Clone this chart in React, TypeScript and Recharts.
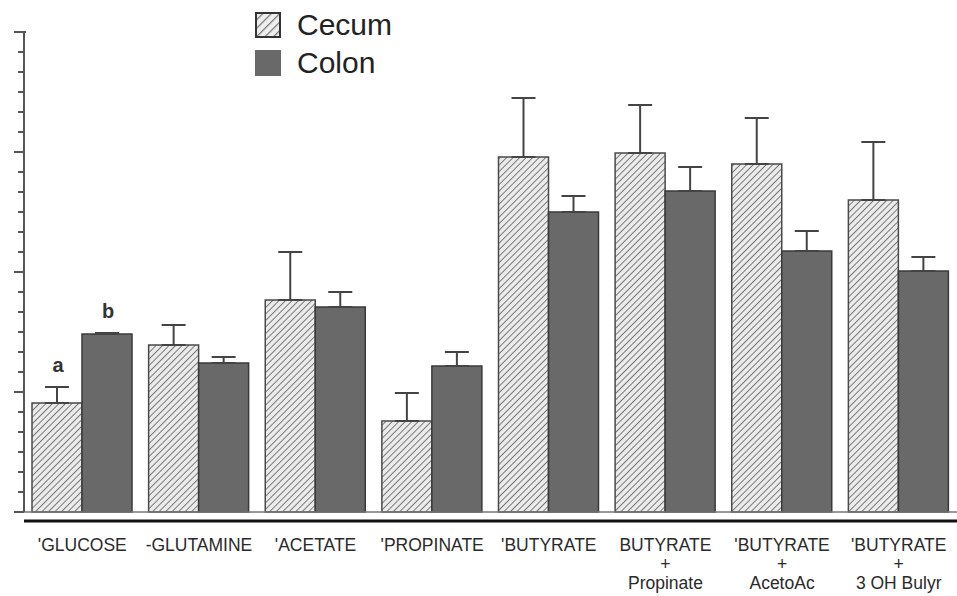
import { Bar, BarChart, ErrorBar, LabelList, Legend, XAxis, YAxis } from 'recharts';

const categories = [
  "'GLUCOSE",
  '-GLUTAMINE',
  "'ACETATE",
  "'PROPINATE",
  "'BUTYRATE",
  'BUTYRATE\n+\nPropinate',
  "'BUTYRATE\n+\nAcetoAc",
  "'BUTYRATE\n+\n3 OH Bulyr",
];
const cecum = [5.45, 8.35, 10.6, 4.55, 17.75, 17.95, 17.4, 15.6];
const cecumErr = [0.8, 1.0, 2.4, 1.4, 2.95, 2.4, 2.3, 2.9];
const colon = [8.9, 7.45, 10.25, 7.3, 15.0, 16.05, 13.05, 12.05];
const colonErr = [0.05, 0.3, 0.75, 0.7, 0.8, 1.2, 1.0, 0.7];
const cecumNotes = ['a', '', '', '', '', '', '', ''];
const colonNotes = ['b', '', '', '', '', '', '', ''];
const yTicks = [0, 1, 2, 3, 4, 5, 6, 7, 8, 9, 10, 11, 12, 13, 14, 15, 16, 17, 18, 19, 20, 21, 22, 23, 24];

const data = categories.map((name, i) => ({
  name,
  cecum: cecum[i],
  colon: colon[i],
  cecumErr: [0, cecumErr[i]],
  colonErr: [0, colonErr[i]],
  cecumNote: cecumNotes[i],
  colonNote: colonNotes[i],
}));

const COLON_FILL = '#696969';

function YTick({ x, y, payload }: any) {
  const major = payload.value % 6 === 0;
  return <line x1={x - (major ? 10 : 6)} x2={x + (payload.value === 24 ? 2 : 0)} y1={y} y2={y} stroke="#555" strokeWidth={2} />;
}

function CategoryTick({ x, y, payload }: any) {
  const lines = String(payload.value).split('\n');
  return (
    <text x={x} y={y + 30} textAnchor="middle" fontSize={17.5} fill="#2a2a2a">
      {lines.map((l, i) => <tspan key={i} x={x} dy={i ? 19 : 0}>{l}</tspan>)}
    </text>
  );
}

// letter sits above the error bar: error length in px follows from the bar's own height
const noteLabel = (values: number[], errs: number[]) => (props: any) => {
  const { x, y, width, height, value, index } = props;
  if (!value) return null;
  const errPx = (height * errs[index]) / values[index];
  return <text x={x + width / 2 + 1} y={y - errPx - 15} textAnchor="middle" fontSize={20} fontWeight="bold" fill="#333">{value}</text>;
};

function LegendBox() {
  const row = { display: 'flex', alignItems: 'center', height: 38 } as const;
  return (
    <div style={{ fontSize: 30, color: '#222' }}>
      <div style={row}>
        <svg width={26} height={26} style={{ marginRight: 16 }}>
          <defs>
            <pattern id="lgHatch" patternUnits="userSpaceOnUse" width={6} height={6} patternTransform="rotate(45)">
              <rect width={6} height={6} fill="#efefef" />
              <line x1={0} y1={0} x2={0} y2={6} stroke="#777" strokeWidth={2.5} />
            </pattern>
          </defs>
          <rect x={1} y={1} width={24} height={24} fill="url(#lgHatch)" stroke="#333" strokeWidth={2} />
        </svg>
        <span>Cecum</span>
      </div>
      <div style={row}>
        <svg width={26} height={26} style={{ marginRight: 16 }}>
          <rect x={0} y={0} width={26} height={26} fill={COLON_FILL} />
        </svg>
        <span>Colon</span>
      </div>
    </div>
  );
}

export default function App() {
  return (
    <div style={{ position: 'absolute', left: 0, top: 0, fontFamily: '"Liberation Sans", Arial, sans-serif' }}>
      <BarChart width={957} height={596} data={data} margin={{ top: 32, right: 0, bottom: 0, left: 0 }} barGap={0} barSize={50}>
        <defs>
          <pattern id="hatch" patternUnits="userSpaceOnUse" width={4.6} height={4.6} patternTransform="rotate(45)">
            <rect width={4.6} height={4.6} fill="#ebebeb" />
            <line x1={0} y1={0} x2={0} y2={4.6} stroke="#6e6e6e" strokeWidth={1.8} />
          </pattern>
        </defs>
        <XAxis xAxisId="base" dataKey="name" height={9} tick={false} tickLine={false} axisLine={{ stroke: '#777', strokeWidth: 1.5 }} />
        <XAxis xAxisId="labels" dataKey="name" height={75} tickLine={false} tickSize={0} tickMargin={0} interval={0} tick={<CategoryTick />} axisLine={{ stroke: '#111', strokeWidth: 3 }} />
        <YAxis width={24} domain={[0, 24]} ticks={yTicks} interval={0} tickLine={false} tickSize={0} tickMargin={0} tick={<YTick />} axisLine={{ stroke: '#555', strokeWidth: 2 }} />
        <Legend layout="vertical" align="center" verticalAlign="middle" wrapperStyle={{ left: 255, top: 6, width: 'auto' }} content={() => <LegendBox />} />
        <Bar xAxisId="base" dataKey="cecum" name="Cecum" fill="url(#hatch)" stroke="#4a4a4a" strokeWidth={1.5} isAnimationActive={false}>
          <ErrorBar dataKey="cecumErr" direction="y" width={12} stroke="#444" strokeWidth={2} />
          <LabelList dataKey="cecumNote" content={noteLabel(cecum, cecumErr)} />
        </Bar>
        <Bar xAxisId="base" dataKey="colon" name="Colon" fill={COLON_FILL} stroke="#3a3a3a" strokeWidth={1.5} isAnimationActive={false}>
          <ErrorBar dataKey="colonErr" direction="y" width={12} stroke="#444" strokeWidth={2} />
          <LabelList dataKey="colonNote" content={noteLabel(colon, colonErr)} />
        </Bar>
      </BarChart>
    </div>
  );
}
